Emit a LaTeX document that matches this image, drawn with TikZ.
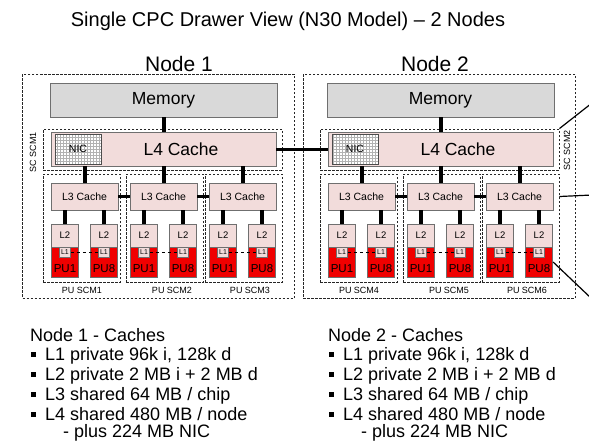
\documentclass[tikz,border=0pt]{standalone}
\usepackage{fontspec}
\setmainfont{Liberation Sans}
\usetikzlibrary{patterns}
\definecolor{memgray}{HTML}{D9D9D9}
\definecolor{cachepink}{HTML}{F2DCDB}
\definecolor{edgegray}{HTML}{6F6F6F}
\definecolor{pured}{HTML}{F00000}
\newcommand{\fsz}[1]{\fontsize{#1}{#1}\selectfont}

\begin{document}
\begin{tikzpicture}[x=1pt,y=-1pt]

			\tikzstyle{dashbox}=[draw=black!85,dash pattern=on 2.5pt off 1.5pt,
				line width=0.9pt,inner sep=0pt]
			\tikzstyle{nodebox}=[dashbox,minimum width=272pt,minimum height=224pt]
			\tikzstyle{scbox}=[dashbox,minimum width=239pt,minimum height=41pt]
			\tikzstyle{scmbox}=[dashbox,minimum width=77pt,minimum height=108pt]
			\tikzstyle{memory}=[fill=memgray,draw=edgegray,line width=0.9pt,
				minimum width=227pt,minimum height=34pt,inner sep=0pt,font=\fsz{17.5}]
			\tikzstyle{lfourbox}=[fill=cachepink,draw=edgegray,line width=0.9pt,
				minimum width=225pt,minimum height=34pt,inner sep=0pt]
			\tikzstyle{nicbox}=[preaction={fill=white},pattern=grid,pattern color=black!30,
				draw=black!70,line width=0.9pt,minimum width=46pt,minimum height=30pt,
				inner sep=0pt,font=\fsz{10.5}]
			\tikzstyle{lthreebox}=[fill=cachepink,draw=edgegray,line width=0.8pt,
				minimum width=67pt,minimum height=27pt,inner sep=0pt,font=\fsz{10.5}]
			\tikzstyle{ltwobox}=[fill=cachepink,draw=edgegray,line width=0.7pt,
				minimum width=27.5pt,minimum height=23pt,inner sep=0pt,font=\fsz{9.5}]
			\tikzstyle{pubox}=[fill=pured,draw=edgegray,line width=0.7pt,
				minimum width=27.5pt,minimum height=30pt,inner sep=0pt]
			\tikzstyle{lonebox}=[fill=cachepink,draw=edgegray,line width=0.5pt,
				minimum width=11pt,minimum height=10pt,inner sep=0pt,font=\fsz{7}]
			\tikzstyle{putext}=[inner sep=0pt,font=\fsz{11.5}]
			\tikzstyle{smalllabel}=[inner sep=0pt,font=\fsz{9}]
			\tikzstyle{bus}=[line width=4pt]
			\tikzstyle{link}=[line width=3pt]
			\tikzstyle{oneline}=[dashed,line width=0.7pt]
			\tikzstyle{exit}=[line width=1.2pt]
			\tikzstyle{listtext}=[anchor=base west,inner sep=0pt,font=\fsz{18}]
			\tikzstyle{bullet}=[fill=black,minimum size=5pt,inner sep=0pt]

			\path[use as bounding box,fill=white] (0,0) rectangle (589,440);

			\node[inner sep=0pt,anchor=base,font=\fsz{20}] (title) at (288,26)
				{Single CPC Drawer View (N30 Model) -- 2 Nodes};

			% the two nodes
			\foreach \n/\ox/\bx/\lx in {1/0/158.5/179,2/277/439/435}{
				\node[nodebox] (box\n) at (\bx,186) {};
				\node[inner sep=0pt,anchor=base,font=\fsz{21}] (name\n) at (\lx,71) {Node \n};
				\node[memory] (mem\n) at (163.5+\ox,100) {Memory};
				\node[scbox] (sc\n) at (162.5+\ox,149.5) {};
				\node[lfourbox] (lfour\n) at (163.5+\ox,149) {};
				\node[inner sep=0pt,font=\fsz{17.5}] (lfourtxt\n) at (181+\ox,149) {L4 Cache};
				\node[nicbox] (nic\n) at (78+\ox,149) {NIC};
				\draw[bus] (mem\n) -- (lfour\n);

				\foreach \c/\cx/\px/\tx in {1/84.5/81.5/82,2/163.5/164.5/172,3/242.5/243.5/250}{
					\pgfmathtruncatemacro{\s}{3*(\n-1)+\c}
					\node[scmbox] (scm\n\c) at (\px+\ox,228) {};
					\node[smalllabel] (scmlbl\n\c) at (\tx+\ox,290) {PU SCM\s};
					\node[lthreebox] (lthree\n\c) at (\cx+\ox,196.5) {L3 Cache};
					\draw[bus] (lthree\n\c.north) -- (lthree\n\c.north |- lfour\n.south);
					\foreach \k/\dx/\pn in {a/-19.5/1,b/19.5/8}{
						\node[ltwobox] (ltwo\n\c\k) at (\cx+\ox+\dx,235.5) {L2};
						\node[pubox] (pu\n\c\k) at (\cx+\ox+\dx,262) {};
						\node[lonebox] (lone\n\c\k) at (\cx+\ox+\dx,252) {L1};
						\node[putext] (putxt\n\c\k) at (\cx+\ox+\dx,268.5) {PU\pn};
						\draw[bus] (ltwo\n\c\k.north) -- (ltwo\n\c\k.north |- lthree\n\c.south);
					}
					\draw[oneline] (lone\n\c a.east) -- (lone\n\c b.west);
				}
				\draw[link] (lthree\n1.east) -- (lthree\n2.west);
				\draw[link] (lthree\n2.east) -- (lthree\n3.west);
			}

			\draw[link] (lfour1.east) -- (lfour2.west);
			\node[smalllabel,rotate=90] (sclbl1) at (33,152) {SC SCM1};
			\node[smalllabel,rotate=90] (sclbl2) at (567,150) {SC SCM2};

			% lines leaving the drawer
			\coordinate (outa) at (592,103);
			\coordinate (outb) at (592,195);
			\coordinate (outc) at (592,299);
			\draw[exit] (sc2.north east) -- (outa);
			\draw[exit] (scm23.east |- lthree23) -- (outb);
			\draw[exit] (pu23b.east) -- (outc);

			% cache sizes
			\foreach \n/\ox in {1/0,2/298}{
				\node[listtext] (head\n) at (30+\ox,341) {Node \n{} - Caches};
				\foreach \i/\y/\txt in {a/360/{L1 private 96k i, 128k d},
						b/380/{L2 private 2 MB i + 2 MB d},
						c/400/{L3 shared 64 MB / chip},
						d/420/{L4 shared 480 MB / node}}{
					\node[bullet] (bul\n\i) at (33+\ox,\y-5.5) {};
					\node[listtext] (item\n\i) at (45+\ox,\y) {\txt};
				}
				\node[listtext] (plus\n) at (63+\ox,437) {- plus 224 MB NIC};
			}

\end{tikzpicture}
\end{document}
